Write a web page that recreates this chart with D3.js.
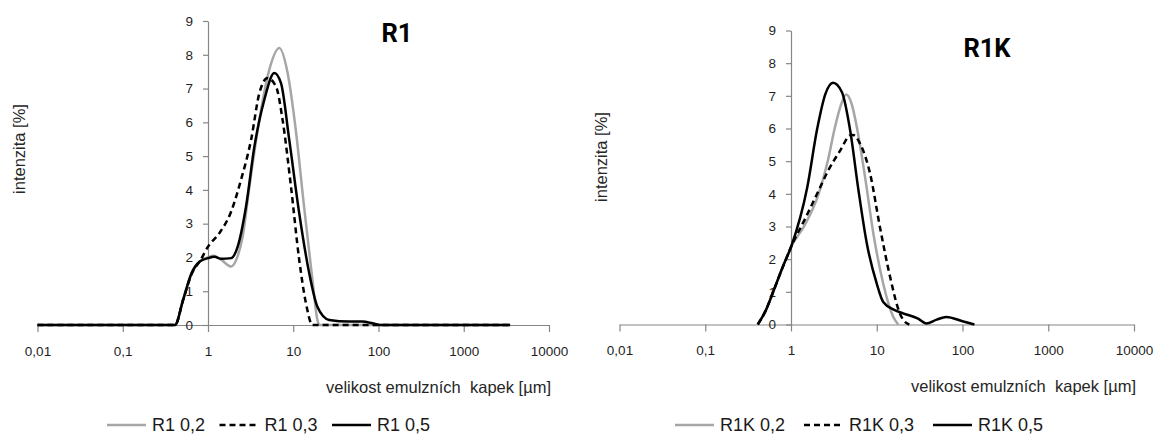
<!DOCTYPE html>
<html>
<head>
<meta charset="utf-8">
<script src="https://cdn.jsdelivr.net/npm/d3@7"></script>
<style>
  html, body { margin: 0; padding: 0; background: #fff; }
  svg { display: block; }
  text { font-family: "Liberation Sans", Arial, sans-serif; }
</style>
</head>
<body>
<svg id="chart" width="1155" height="435"></svg>
<script>
// Droplet size axis (log scale) and intensity axis
const sizeTicks = [0.01, 0.1, 1, 10, 100, 1000, 10000];
const sizeTickLabels = ["0,01", "0,1", "1", "10", "100", "1000", "10000"];
const intensityTicks = [0, 1, 2, 3, 4, 5, 6, 7, 8, 9];

const xTitle = "velikost emulzních  kapek [µm]";
const yTitle = "intenzita [%]";

// ---- R1 ----
const r1Labels = ["R1 0,2", "R1 0,3", "R1 0,5"];

const r1_02_size = [0.01, 0.41, 0.51, 0.64, 0.8, 1.0, 1.15, 1.4, 1.87, 2.2, 2.55, 3.06, 4.0, 5.24, 6.86, 8.59, 10.7, 13.4, 16.8, 19.2, 20.5, 3500];
const r1_02_int  = [0, 0, 0.74, 1.5, 1.88, 2.0, 2.05, 1.95, 1.73, 2.0, 2.62, 4.1, 6.07, 7.56, 8.2, 7.46, 5.78, 3.5, 1.33, 0.15, 0, 0];

const r1_03_size = [0.01, 0.41, 0.51, 0.64, 0.83, 1.0, 1.36, 1.87, 2.44, 3.2, 4.0, 5.0, 6.28, 7.5, 9.4, 11.75, 14.1, 16.8, 3500];
const r1_03_int  = [0, 0, 0.74, 1.5, 1.95, 2.32, 2.72, 3.36, 4.3, 5.48, 6.86, 7.31, 7.06, 6.07, 4.1, 1.93, 0.64, 0, 0];

const r1_05_size = [0.01, 0.41, 0.51, 0.64, 0.8, 1.0, 1.19, 1.43, 1.87, 2.23, 2.79, 3.5, 4.58, 6.0, 7.18, 8.98, 11.75, 15.4, 19.2, 26.4, 45, 65, 85, 105, 3500];
const r1_05_int  = [0, 0, 0.74, 1.53, 1.88, 1.98, 2.02, 1.96, 1.98, 2.32, 3.5, 5.28, 6.67, 7.46, 7.16, 5.48, 3.31, 1.53, 0.54, 0.15, 0.1, 0.1, 0.05, 0, 0];

// ---- R1K ----
const r1kLabels = ["R1K 0,2", "R1K 0,3", "R1K 0,5"];

const r1k_02_size = [0.41, 0.51, 0.63, 0.8, 1.0, 1.45, 2.1, 2.68, 3.23, 3.8, 4.41, 5.1, 5.9, 7.31, 9.14, 11.9, 15.6, 17.8];
const r1k_02_int  = [0, 0.44, 1.05, 1.75, 2.37, 3.05, 4.0, 5.0, 6.0, 6.7, 7.04, 6.75, 6.0, 4.51, 2.78, 1.25, 0.23, 0];

const r1k_03_size = [0.41, 0.51, 0.63, 0.8, 1.0, 1.5, 2.1, 2.7, 3.76, 4.9, 5.3, 6.4, 8.36, 10.9, 14.3, 18.6, 21, 24];
const r1k_03_int  = [0, 0.44, 1.05, 1.75, 2.37, 3.3, 4.1, 4.7, 5.33, 5.79, 5.8, 5.53, 4.62, 2.98, 1.46, 0.34, 0.1, 0];

const r1k_05_size = [0.41, 0.51, 0.63, 0.8, 1.0, 1.55, 2.02, 2.52, 3.09, 3.93, 4.9, 6.12, 7.66, 10, 11.9, 16, 20.3, 30.3, 37.9, 50, 64.7, 100, 137.7];
const r1k_05_int  = [0, 0.44, 1.05, 1.76, 2.37, 4.21, 5.99, 7.06, 7.4, 7.11, 5.94, 4.11, 2.48, 1.25, 0.69, 0.45, 0.34, 0.18, 0.03, 0.15, 0.23, 0.1, 0];

// Line styles for the three concentrations
const seriesStyles = [
  { stroke: "#a6a6a6", dash: null },
  { stroke: "#000000", dash: "6,4" },
  { stroke: "#000000", dash: null }
];

const panels = [
  {
    title: "R1", labels: r1Labels,
    sizes: [r1_02_size, r1_03_size, r1_05_size],
    ints: [r1_02_int, r1_03_int, r1_05_int],
    xRange: [37.5, 549], yRange: [325, 21],
    titlePos: [397, 42],
    yTitlePos: [19, 149],
    legendX: 107, legendStep: 112.5
  },
  {
    title: "R1K", labels: r1kLabels,
    sizes: [r1k_02_size, r1k_03_size, r1k_05_size],
    ints: [r1k_02_int, r1k_03_int, r1k_05_int],
    xRange: [619.5, 1134], yRange: [324.5, 30.5],
    titlePos: [987, 57],
    yTitlePos: [601, 157],
    legendX: 675, legendStep: 129
  }
];

const svg = d3.select("#chart");
const axisColor = "#868686";
const textColor = "#262626";

panels.forEach(p => {
  const x = d3.scaleLog().domain([sizeTicks[0], sizeTicks[sizeTicks.length - 1]]).range(p.xRange);
  const y = d3.scaleLinear().domain([0, intensityTicks[intensityTicks.length - 1]]).range(p.yRange);
  const g = svg.append("g");

  // x axis
  const xAxis = g.append("g")
    .attr("transform", `translate(0,${y(0)})`)
    .call(d3.axisBottom(x)
      .tickValues(sizeTicks)
      .tickFormat((d, i) => sizeTickLabels[i])
      .tickSize(7).tickSizeOuter(0).tickPadding(14));

  // y axis crosses at size 1
  const yAxis = g.append("g")
    .attr("transform", `translate(${x(1)},0)`)
    .call(d3.axisLeft(y)
      .tickValues(intensityTicks)
      .tickSize(5).tickSizeOuter(0).tickPadding(10));

  [xAxis, yAxis].forEach(a => {
    a.select(".domain").attr("stroke", axisColor).attr("stroke-width", 1.2);
    a.selectAll(".tick line").attr("stroke", axisColor).attr("stroke-width", 1.2);
    a.selectAll(".tick text")
      .attr("fill", "#1f1f1f")
      .style("font-size", "13.5px")
      .style("font-family", "'Liberation Sans', Arial, sans-serif");
  });

  // Distribution curves
  const line = d3.line()
    .x(d => x(d[0]))
    .y(d => y(d[1]))
    .curve(d3.curveMonotoneX);

  p.sizes.forEach((sz, i) => {
    const pts = sz.map((s, k) => [s, p.ints[i][k]]);
    const st = seriesStyles[i];
    g.append("path")
      .datum(pts)
      .attr("d", line)
      .attr("fill", "none")
      .attr("stroke", st.stroke)
      .attr("stroke-width", 2.5)
      .attr("stroke-linejoin", "round")
      .attr("stroke-dasharray", st.dash);
  });

  // Panel title
  g.append("text")
    .attr("x", p.titlePos[0]).attr("y", p.titlePos[1])
    .attr("text-anchor", "middle")
    .style("font-family", "Roboto, 'Liberation Sans', sans-serif")
    .style("font-weight", "bold")
    .style("font-size", "25.5px")
    .attr("fill", "#000")
    .text(p.title);

  // Axis titles
  g.append("text")
    .attr("x", p.xRange[1] + 2).attr("y", y(0) + 67.5)
    .attr("text-anchor", "end")
    .style("font-size", "16.5px")
    .style("white-space", "pre")
    .attr("xml:space", "preserve")
    .attr("fill", textColor)
    .text(xTitle);

  g.append("text")
    .attr("transform", `translate(${p.yTitlePos[0]},${p.yTitlePos[1]}) rotate(-90)`)
    .attr("text-anchor", "middle")
    .attr("dy", "0.35em")
    .style("font-size", "16.5px")
    .attr("fill", textColor)
    .text(yTitle);

  // Legend
  const legend = g.append("g").attr("transform", "translate(0,425)");
  p.labels.forEach((lab, i) => {
    const lx = p.legendX + i * p.legendStep;
    const st = seriesStyles[i];
    legend.append("line")
      .attr("x1", lx).attr("x2", lx + 39)
      .attr("y1", 0).attr("y2", 0)
      .attr("stroke", st.stroke)
      .attr("stroke-width", 2.5)
      .attr("stroke-dasharray", st.dash);
    legend.append("text")
      .attr("x", lx + 45).attr("y", 0)
      .attr("dy", "0.34em")
      .style("font-size", "18px")
      .attr("fill", "#1a1a1a")
      .text(lab);
  });
});
</script>
</body>
</html>
